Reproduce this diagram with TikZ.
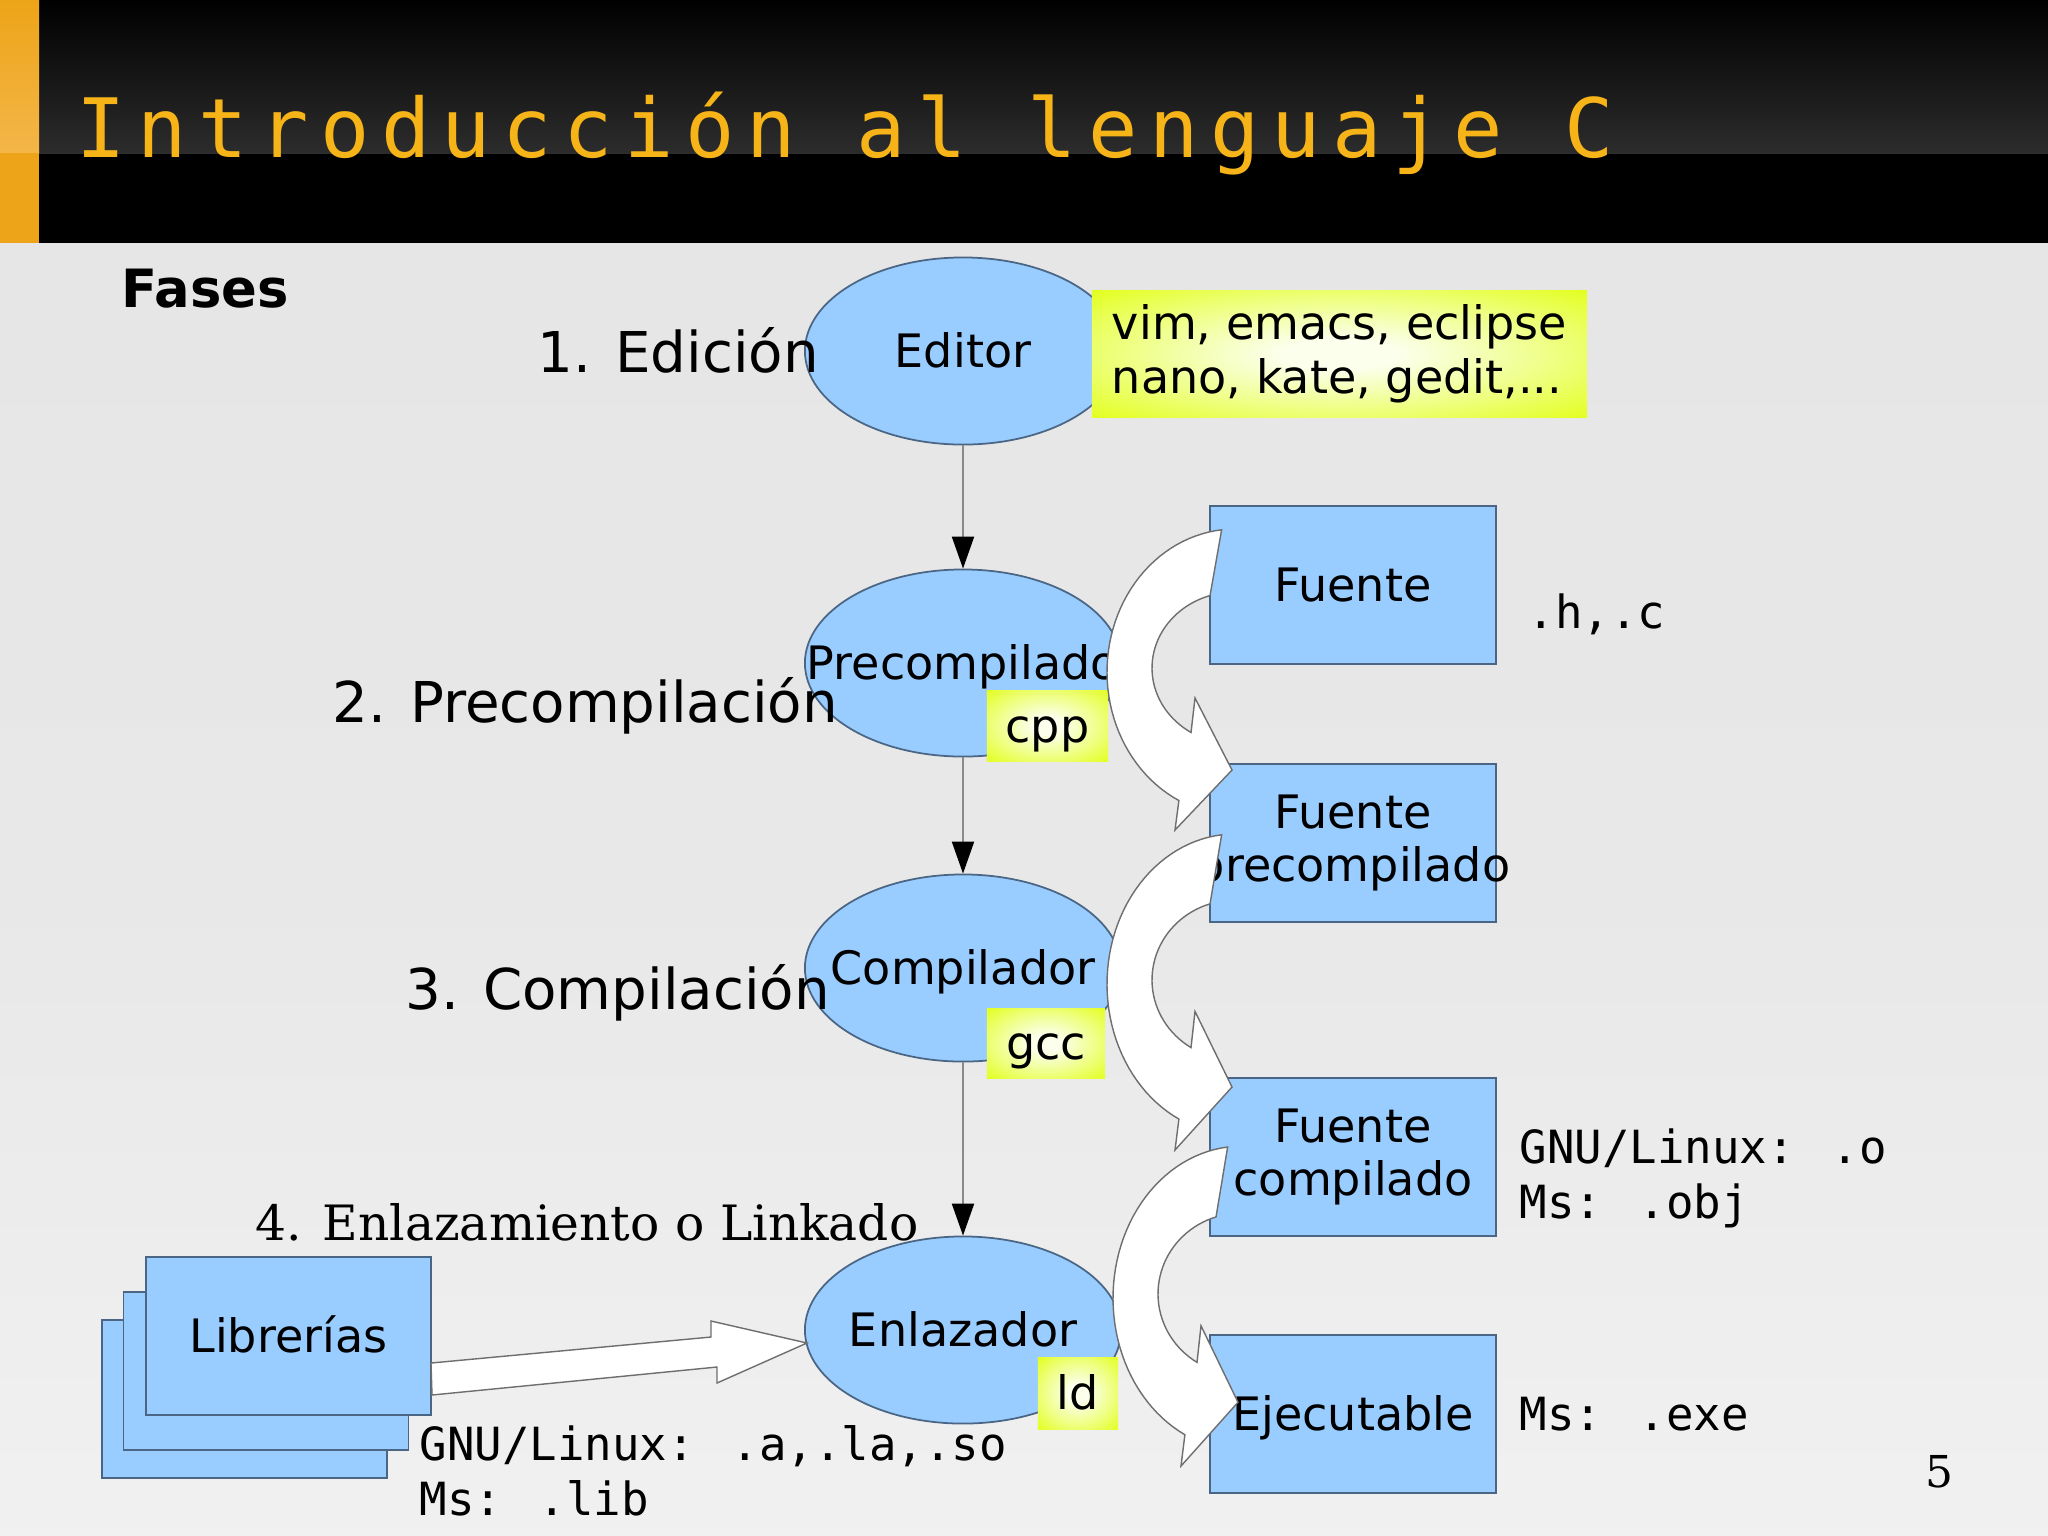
\documentclass[tikz,border=0pt]{standalone}
\usepackage{fontspec}
\setmainfont{DejaVu Sans}
\newfontfamily\monof{DejaVu Sans Mono}
\newfontfamily\seriff{DejaVu Serif}
\newfontfamily\titlef[LetterSpace=14.1]{DejaVu Sans Mono}
\usetikzlibrary{shapes.geometric,arrows.meta}
\definecolor{lblue}{HTML}{99CCFF}
\definecolor{edgeblue}{HTML}{4A6684}
\definecolor{yout}{HTML}{E2FF1C}
\definecolor{ymid}{HTML}{EEFF80}
\definecolor{yin}{HTML}{FBFFEC}
\definecolor{ttlcol}{HTML}{F6B418}
\definecolor{orA}{HTML}{EDA418}
\definecolor{orB}{HTML}{F4B648}
\definecolor{barB}{HTML}{2C2C2C}
\definecolor{bgA}{HTML}{D8D8D8}
\definecolor{bgB}{HTML}{EBEBEB}
\definecolor{bgC}{HTML}{F3F3F3}
\definecolor{bgD}{HTML}{E8E8E8}
\definecolor{bgE}{HTML}{E4E4E4}
\definecolor{lgray}{HTML}{8A8A8A}
\definecolor{agray}{HTML}{6E6E6E}
\newcommand\zbox[1]{\makebox[0pt][c]{#1}}
\pgfdeclareverticalshading{slidebg}{100bp}{color(0bp)=(bgA); color(4bp)=(bgB); color(18bp)=(bgC); color(50bp)=(bgD); color(100bp)=(bgE)}
\pgfdeclareradialshading{yglow}{\pgfpoint{0bp}{0bp}}{color(0bp)=(yin); color(6bp)=(yin); color(22bp)=(ymid); color(36bp)=(yout); color(50bp)=(yout)}
\tikzset{
  blob/.style={ellipse, draw=edgeblue, fill=lblue, line width=0.5pt, minimum width=3.16cm, minimum height=1.87cm, inner sep=0pt, font=\fontsize{13.1}{15.1}\selectfont, text height=9.5pt, text depth=0pt},
  fbox/.style={rectangle, draw=edgeblue, fill=lblue, line width=0.5pt, minimum width=2.86cm, minimum height=1.58cm, inner sep=2pt, align=center, font=\fontsize{13.1}{15.1}\selectfont},
  capc/.style={text height=9.5pt, text depth=0pt},
  ylab/.style={shade, shading=yglow, inner sep=0pt, font=\fontsize{13.1}{15.4}\selectfont},
  phase/.style={anchor=base west, inner sep=0pt, font=\fontsize{16}{19}\selectfont},
  mono/.style={anchor=base west, inner sep=0pt, align=left, font=\monof\fontsize{13}{15.5}\selectfont},
  varr/.style={draw=lgray, line width=0.6pt, -{Triangle[length=0.32cm,width=0.22cm,color=black]}},
  warrow/.style={fill=white, draw=agray, line width=0.4pt, line join=miter},
  curvarrow/.pic={
    \path[warrow] plot[domain=264:116,samples=50,variable=\t] ({128*cos(\t)},{2+143*sin(\t)})
      -- (-60,160) -- (-3,100) -- (-40,28)
      -- plot[domain=122:252.5,samples=40,variable=\t] ({83*cos(\t)},{-2+76*sin(\t)})
      -- cycle;
  }
}
\begin{document}
\begin{tikzpicture}[x=0.01cm,y=-0.01cm]
\useasboundingbox (0,0) rectangle (2048,1535);
% background
\shade[shading=slidebg] (0,243) rectangle (2048,1535);
\fill[black] (0,0) rectangle (2048,243);
\shade[top color=black, bottom color=barB] (39,0) rectangle (2048,153);
\shade[top color=orA, bottom color=orB] (0,0) rectangle (39,153);
\fill[orA] (0,153) rectangle (39,243);
\node[anchor=base west, inner sep=0pt, text=ttlcol, font=\titlef\fontsize{23.3}{28}\selectfont] (title) at (76,157) {Introducción al lenguaje C};

\node[anchor=base west, inner sep=0pt, font=\bfseries\fontsize{15}{18}\selectfont] (fases) at (121,307) {Fases};

% phase ellipses
\node[blob] (edit) at (963,351) {\zbox{Editor}};
\node[blob] (prec) at (963,663) {\zbox{Precompilado}};
\node[blob] (comp) at (963,968) {\zbox{Compilador}};
\node[blob] (enl) at (963,1330) {\zbox{Enlazador}};

\draw[varr] (edit) -- (prec);
\draw[varr] (prec) -- (comp);
\draw[varr] (comp) -- (enl);

% yellow labels
\node[ylab, minimum width=4.95cm, minimum height=1.26cm, align=left] (tools) at (1339.5,354) {vim, emacs, eclipse\\nano, kate, gedit,...};
\node[ylab, capc, minimum width=1.21cm, minimum height=0.71cm] (cpp) at (1047.5,725.5) {cpp};
\node[ylab, capc, minimum width=1.18cm, minimum height=0.70cm] (gcc) at (1046,1043) {gcc};
\node[ylab, capc, minimum width=0.80cm, minimum height=0.72cm] (ld) at (1078,1393) {ld};

% phase labels
\node[phase] (ph1) at (537,372) {1. Edición};
\node[phase] (ph2) at (332,722) {2. Precompilación};
\node[phase] (ph3) at (405,1009) {3. Compilación};
\node[anchor=base west, inner sep=0pt, font=\seriff\fontsize{13.85}{17}\selectfont] (ph4) at (255,1240) {4. Enlazamiento o Linkado};

% file boxes
\node[fbox, capc] (src) at (1353,585) {Fuente};
\node[fbox] (pre) at (1353,843) {Fuente\\\zbox{precompilado}};
\node[fbox] (obj) at (1353,1157) {Fuente\\compilado};
\node[fbox, capc] (exe) at (1353,1414) {Ejecutable};

% libraries
\node[fbox, minimum width=2.85cm] (lib3) at (244.5,1399) {};
\node[fbox, minimum width=2.85cm] (lib2) at (266,1371) {};
\node[fbox, capc, minimum width=2.85cm] (lib1) at (288.5,1336) {Librerías};

% extensions (base anchor = last line)
\node[mono] (ext1) at (1527,628) {.h,.c};
\node[mono] (ext2) at (1519,1218) {GNU/Linux: .o\\Ms: .obj};
\node[mono] (ext3) at (1519,1430) {Ms: .exe};
\node[mono] (ext4) at (419,1515) {GNU/Linux: .a,.la,.so\\Ms: .lib};

% block arrows
\path[warrow] (431,1363) -- (711,1337) -- (711,1321) -- (807,1343) -- (717,1383) -- (717,1367) -- (432,1395) -- cycle;
\pic at (1235,670) {curvarrow};
\pic[yscale=1.05] at (1235,982) {curvarrow};
\pic[yscale=1.0625] at (1241,1296) {curvarrow};

\node[anchor=base west, inner sep=0pt, font=\seriff\fontsize{12.5}{15}\selectfont] (page) at (1925,1487) {5};
\end{tikzpicture}
\end{document}
